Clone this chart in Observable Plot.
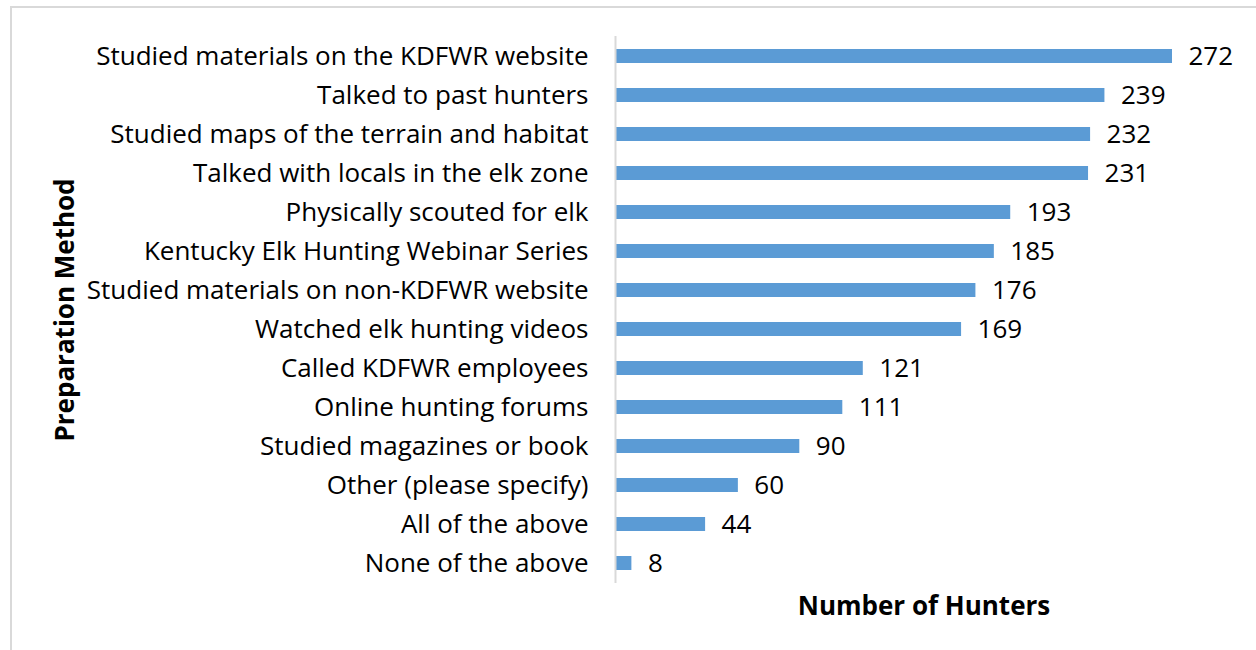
<!DOCTYPE html>
<html>
<head>
<meta charset="utf-8">
<script src="https://cdn.jsdelivr.net/npm/d3@7"></script>
<script src="https://cdn.jsdelivr.net/npm/@observablehq/plot@0.6"></script>
<style>
  html, body { margin: 0; padding: 0; background: #fff; overflow: hidden; }
  #wrap { position: relative; width: 1256px; height: 650px; }
  #frame { position: absolute; left: 10px; top: 6px; width: 1300px; height: 700px; border-top: 2px solid #d9d9d9; border-left: 2px solid #d9d9d9; box-sizing: border-box; }
  #chart { position: absolute; left: 0; top: 0; }
</style>
</head>
<body>
<div id="wrap">
  <div id="frame"></div>
  <div id="chart"></div>
</div>
<script>
const methods = [
  "Studied materials on the KDFWR website",
  "Talked to past hunters",
  "Studied maps of the terrain and habitat",
  "Talked with locals in the elk zone",
  "Physically scouted for elk",
  "Kentucky Elk Hunting Webinar Series",
  "Studied materials on non-KDFWR website",
  "Watched elk hunting videos",
  "Called KDFWR employees",
  "Online hunting forums",
  "Studied magazines or book",
  "Other (please specify)",
  "All of the above",
  "None of the above"
];
const hunters = [272, 239, 232, 231, 193, 185, 176, 169, 121, 111, 90, 60, 44, 8];
const xTitle = "Number of Hunters";
const yTitle = "Preparation Method";

const data = methods.map((m, i) => ({method: m, count: hunters[i]}));
const font = "'Open Sans', sans-serif";

const chart = Plot.plot({
  width: 1256,
  height: 650,
  marginLeft: 615,
  marginRight: 84,
  marginTop: 36,
  marginBottom: 67,
  style: {fontFamily: font, fontSize: "26px", color: "#000", background: "transparent"},
  x: {domain: [0, 272], axis: null},
  y: {domain: methods, paddingInner: 0.64, paddingOuter: 0.32, axis: null},
  marks: [
    Plot.barX(data, {x: "count", y: "method", fill: "#5b9bd5"}),
    Plot.ruleX([0], {stroke: "#d9d9d9", strokeWidth: 2}),
    Plot.text(data, {x: 0, y: "method", text: "method", textAnchor: "end", dx: -27, fontSize: 26, fill: "#000"}),
    Plot.text(data, {x: "count", y: "method", text: d => String(d.count), textAnchor: "start", dx: 16, fontSize: 26, fill: "#000"}),
    Plot.text([xTitle], {frameAnchor: "bottom", text: d => d, dx: 30, dy: 31, fontSize: 26, fontWeight: "bold", fill: "#000"}),
    Plot.text([yTitle], {frameAnchor: "left", textAnchor: "middle", text: d => d, rotate: -90, dx: -550, fontSize: 26, fontWeight: "bold", fill: "#000"})
  ]
});
document.getElementById("chart").appendChild(chart);
</script>
</body>
</html>
